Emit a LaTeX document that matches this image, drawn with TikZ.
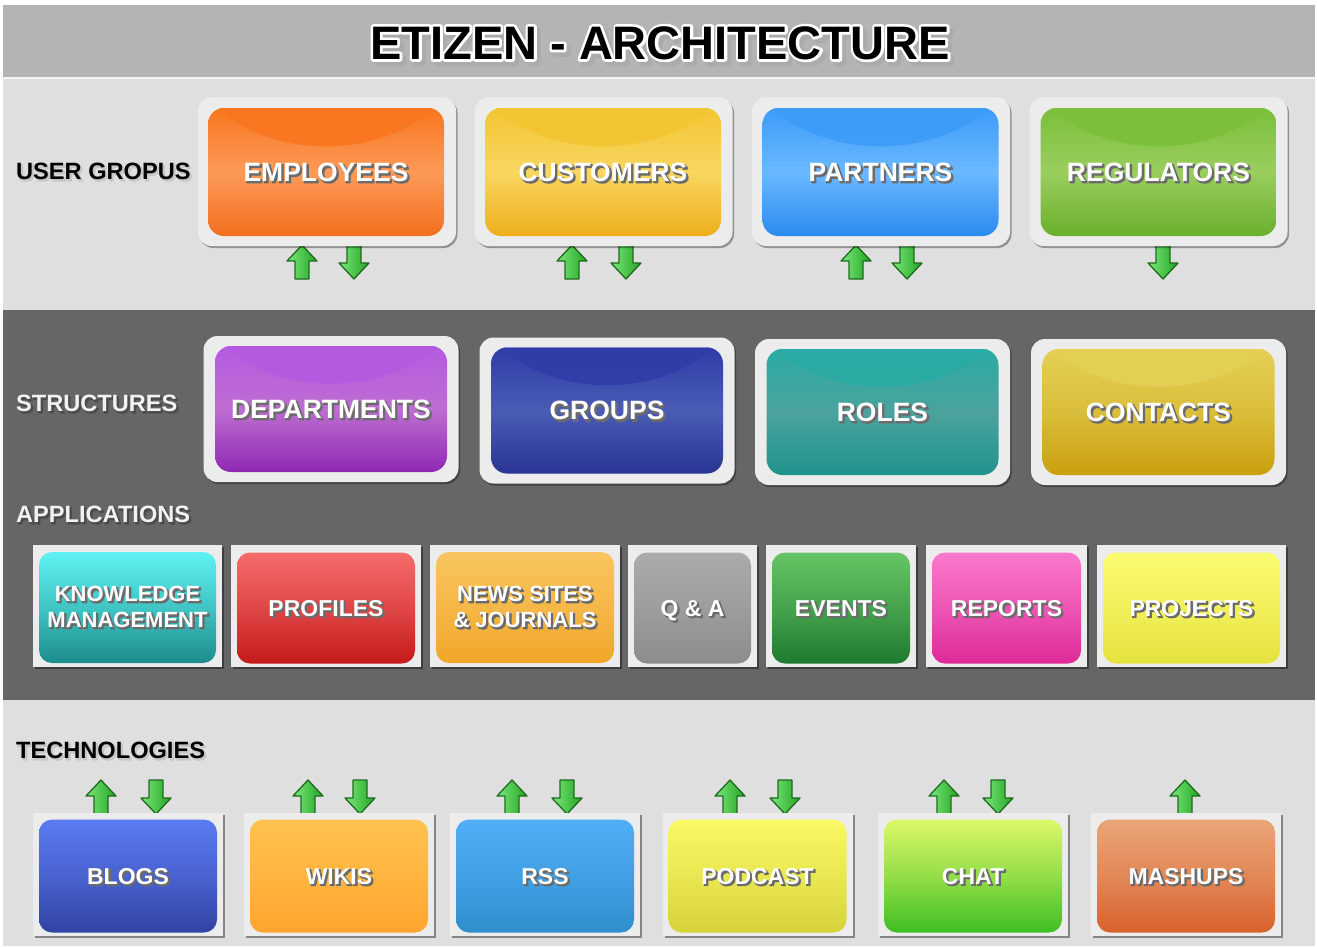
\documentclass[tikz,border=0pt]{standalone}
\usepackage{fontspec}
\setmainfont{Liberation Sans}
\usetikzlibrary{shadows,calc}
\definecolor{titlegray}{HTML}{B4B4B4}
\definecolor{lightband}{HTML}{DFDFDF}
\definecolor{darkband}{HTML}{666666}
\definecolor{framegray}{HTML}{ECECEC}
\definecolor{arrowdark}{HTML}{1E6B1E}
\definecolor{arrowlight}{HTML}{7BE87B}
\definecolor{arrowmid}{HTML}{22A322}
% row 1
\definecolor{empD}{HTML}{F8761E}\definecolor{empL}{HTML}{FC9A58}\definecolor{empB}{HTML}{F36F1E}
\definecolor{cusD}{HTML}{F3C532}\definecolor{cusL}{HTML}{F8D660}\definecolor{cusB}{HTML}{EEAE1C}
\definecolor{parD}{HTML}{3C9CF8}\definecolor{parL}{HTML}{6BB8FF}\definecolor{parB}{HTML}{2A8AF0}
\definecolor{regD}{HTML}{7BBF3A}\definecolor{regL}{HTML}{9ACE5E}\definecolor{regB}{HTML}{6AAF2C}
% row 2
\definecolor{depD}{HTML}{B45AE0}\definecolor{depL}{HTML}{BE6DD2}\definecolor{depB}{HTML}{9028B4}
\definecolor{grpD}{HTML}{303CA8}\definecolor{grpL}{HTML}{4A5CB4}\definecolor{grpB}{HTML}{2A3494}
\definecolor{rolD}{HTML}{2AABA5}\definecolor{rolL}{HTML}{4CA29C}\definecolor{rolB}{HTML}{1E948C}
\definecolor{conD}{HTML}{E4D055}\definecolor{conL}{HTML}{DABD3A}\definecolor{conB}{HTML}{C9A00E}
% row 3
\definecolor{kmT}{HTML}{5EF2F2}\definecolor{kmB}{HTML}{1C8C8C}
\definecolor{proT}{HTML}{F66B6B}\definecolor{proB}{HTML}{C41A1A}
\definecolor{newT}{HTML}{F9C560}\definecolor{newB}{HTML}{F0A628}
\definecolor{qaT}{HTML}{ABABAB}\definecolor{qaB}{HTML}{8C8C8C}
\definecolor{evT}{HTML}{66C466}\definecolor{evB}{HTML}{1E7A2E}
\definecolor{repT}{HTML}{FA78CC}\definecolor{repB}{HTML}{DD2A98}
\definecolor{prjT}{HTML}{FBFB70}\definecolor{prjB}{HTML}{E4E23E}
% row 4
\definecolor{blT}{HTML}{5B7BF2}\definecolor{blB}{HTML}{3244A4}
\definecolor{wiT}{HTML}{FFC24E}\definecolor{wiB}{HTML}{FFA52E}
\definecolor{rsT}{HTML}{50AEF8}\definecolor{rsB}{HTML}{2F8FCC}
\definecolor{poT}{HTML}{F9F965}\definecolor{poB}{HTML}{D6D23A}
\definecolor{chT}{HTML}{DCF868}\definecolor{chB}{HTML}{3DBE22}
\definecolor{maT}{HTML}{EAA678}\definecolor{maB}{HTML}{D8622E}

\newcommand\fntT{\fontsize{47}{50}\selectfont\bfseries}
\newcommand\fntA{\fontsize{26.5}{30}\selectfont\bfseries}
\newcommand\fntC{\fontsize{23}{26}\selectfont\bfseries}
\newcommand\fntK{\fontsize{22}{26}\selectfont\bfseries}
\newcommand\fntL{\fontsize{23.6}{27}\selectfont\bfseries}
% text render mode: fill+stroke (for halos and soft shadows)
\newcommand\trOn[1]{\special{pdf:literal direct 2 Tr #1 w 1 j}}
\newcommand\trOff{\special{pdf:literal direct 0 Tr 0.4 w 0 j}}
\newcommand\shdc[2]{\leavevmode\rlap{\kern1.6pt\raisebox{-1.6pt}{\trOn{1.2}\textcolor{#1}{#2}\trOff}}#2}
\newcommand\shd[1]{\shdc{black!58}{#1}}
\newcommand\titletext[1]{\leavevmode\rlap{\kern3.5pt\raisebox{-4pt}{\trOn{6}\textcolor{black!33}{#1}\trOff}}\rlap{\trOn{5.2}\textcolor{white}{#1}\trOff}#1}

\begin{document}
\begin{tikzpicture}[x=1pt,y=-1pt,
  frameR/.style={fill=framegray, rounded corners=14pt, inner sep=0pt,
    drop shadow={shadow xshift=1.5pt, shadow yshift=-2pt, opacity=.35, fill=black}},
  frameS/.style={fill=framegray, inner sep=0pt,
    drop shadow={shadow xshift=2pt, shadow yshift=-2pt, opacity=.4, fill=black}},
  gloss/.style n args={3}{rounded corners=16pt, inner sep=0pt, text=white,
    top color=#1, bottom color=#3, middle color=#2,
    path picture={\fill[#1,opacity=.9] let \p1=(path picture bounding box.north west),
      \p2=(path picture bounding box.south east) in
      ({(\x1+\x2)/2},{\y1+0.6*(\y1-\y2)}) ellipse [x radius={0.62*(\x2-\x1)}, y radius={0.9*(\y1-\y2)}];}},
  gradbox/.style 2 args={rounded corners=13pt, inner sep=0pt, text=white,
    top color=#1, bottom color=#2, middle color=#1!55!#2},
  rowA/.style={minimum width=258pt, minimum height=149pt},
  rowAi/.style={minimum width=236pt, minimum height=128pt, font=\fntA, text depth=0pt},
  rowB/.style={minimum width=255pt, minimum height=146pt},
  rowBi/.style={minimum width=232pt, minimum height=126pt, font=\fntA, text depth=0pt},
  rowC/.style={minimum height=122pt},
  rowCi/.style={minimum height=111pt, font=\fntC, align=center},
  one/.style={text depth=0pt},
  rowD/.style={minimum width=190pt, minimum height=123pt},
  rowDi/.style={minimum width=178pt, minimum height=113pt, font=\fntC, text depth=0pt},
  lbl/.style={anchor=west, inner sep=0pt, font=\fntL},
  arrowfill/.style={draw=arrowdark, line width=1.3pt, line join=round, left color=arrowlight, right color=arrowmid},
  uparr/.pic={\path[arrowfill] (0,0) -- (15,16) -- (7,16) -- (7,34) -- (-7,34) -- (-7,16) -- (-15,16) -- cycle;},
  dnarr/.pic={\path[arrowfill] (-7,0) -- (7,0) -- (7,18) -- (15,18) -- (0,34) -- (-15,18) -- (-7,18) -- cycle;}
]
\useasboundingbox (0,0) rectangle (1317,946);
\fill[white] (0,0) rectangle (1317,946);
\fill[titlegray] (3,5) rectangle (1315,77);
\fill[white!85!titlegray] (3,77) rectangle (1315,79);
\fill[lightband] (3,79) rectangle (1315,310);
\fill[darkband] (3,310) rectangle (1315,700);
\fill[lightband] (3,700) rectangle (1315,946);

\node[inner sep=0pt, font=\fntT, text=black] (title) at (660,45) {\titletext{ETIZEN - ARCHITECTURE}};

% labels
\node[lbl, text=black] (lusr) at (16,172) {\shdc{black!22}{USER GROPUS}};
\node[lbl, text=white!95!black] (lstr) at (16,404) {\shdc{black!70}{STRUCTURES}};
\node[lbl, text=white!95!black] (lapp) at (16,515) {\shdc{black!70}{APPLICATIONS}};
\node[lbl, text=black] (ltec) at (16,751) {\shdc{black!22}{TECHNOLOGIES}};

% arrows (behind frames)
\pic at (302,245) {uparr}; \pic at (354,245) {dnarr};
\pic at (572,245) {uparr}; \pic at (626,245) {dnarr};
\pic at (856,245) {uparr}; \pic at (907,245) {dnarr};
\pic at (1163,245) {dnarr};
\pic at (101,780) {uparr}; \pic at (156,780) {dnarr};
\pic at (308,780) {uparr}; \pic at (360,780) {dnarr};
\pic at (512,780) {uparr}; \pic at (567,780) {dnarr};
\pic at (730,780) {uparr}; \pic at (785,780) {dnarr};
\pic at (944,780) {uparr}; \pic at (998,780) {dnarr};
\pic at (1185,780) {uparr};

% row 1: user groups
\node[frameR, rowA] (femp) at (327,171.5) {};
\node[frameR, rowA] (fcus) at (603.5,171.5) {};
\node[frameR, rowA] (fpar) at (881,171.5) {};
\node[frameR, rowA] (freg) at (1158.5,171.5) {};
\node[gloss={empD}{empL}{empB}, rowAi] (emp) at (326,172) {\shd{EMPLOYEES}};
\node[gloss={cusD}{cusL}{cusB}, rowAi] (cus) at (603,172) {\shd{CUSTOMERS}};
\node[gloss={parD}{parL}{parB}, rowAi] (par) at (880.5,172) {\shd{PARTNERS}};
\node[gloss={regD}{regL}{regB}, rowAi] (reg) at (1158.5,172) {\shd{REGULATORS}};

% row 2: structures
\node[frameR, rowB] (fdep) at (331,409) {};
\node[frameR, rowB] (fgrp) at (607,410.5) {};
\node[frameR, rowB] (frol) at (882.5,412) {};
\node[frameR, rowB] (fcon) at (1158.5,412) {};
\node[gloss={depD}{depL}{depB}, rowBi] (dep) at (331,409) {\shd{DEPARTMENTS}};
\node[gloss={grpD}{grpL}{grpB}, rowBi] (grp) at (607,410.5) {\shd{GROUPS}};
\node[gloss={rolD}{rolL}{rolB}, rowBi] (rol) at (882.5,412) {\shd{ROLES}};
\node[gloss={conD}{conL}{conB}, rowBi] (con) at (1158.5,412) {\shd{CONTACTS}};

% row 3: applications
\node[frameS, rowC, minimum width=189pt] (fkm) at (127.5,606) {};
\node[frameS, rowC, minimum width=190pt] (fpro) at (326,606) {};
\node[frameS, rowC, minimum width=190pt] (fnew) at (525,606) {};
\node[frameS, rowC, minimum width=129pt] (fqa) at (692.5,606) {};
\node[frameS, rowC, minimum width=150pt] (fev) at (841,606) {};
\node[frameS, rowC, minimum width=161pt] (frep) at (1006.5,606) {};
\node[frameS, rowC, minimum width=189pt] (fprj) at (1191.5,606) {};
\node[gradbox={kmT}{kmB}, rowCi, minimum width=177pt, font=\fntK] (km) at (127.5,607.5) {\shd{KNOWLEDGE}\\\shd{MANAGEMENT}};
\node[gradbox={proT}{proB}, rowCi, one, minimum width=178pt] (pro) at (326,608) {\shd{PROFILES}};
\node[gradbox={newT}{newB}, rowCi, minimum width=178pt, font=\fntK] (new) at (525,607.5) {\shd{NEWS SITES}\\\shd{\& JOURNALS}};
\node[gradbox={qaT}{qaB}, rowCi, one, minimum width=117pt] (qa) at (692.5,608) {\shd{Q \& A}};
\node[gradbox={evT}{evB}, rowCi, one, minimum width=138pt] (ev) at (841,608) {\shd{EVENTS}};
\node[gradbox={repT}{repB}, rowCi, one, minimum width=149pt] (rep) at (1006.5,608) {\shd{REPORTS}};
\node[gradbox={prjT}{prjB}, rowCi, one, minimum width=177pt] (prj) at (1191.5,608) {\shd{PROJECTS}};

% row 4: technologies
\node[frameS, rowD] (fbl) at (128,874.5) {};
\node[frameS, rowD] (fwi) at (339,874.5) {};
\node[frameS, rowD] (frs) at (545,874.5) {};
\node[frameS, rowD] (fpo) at (757.5,874.5) {};
\node[frameS, rowD] (fch) at (973,874.5) {};
\node[frameS, rowD] (fma) at (1186,874.5) {};
\node[gradbox={blT}{blB}, rowDi] (bl) at (128,876) {\shd{BLOGS}};
\node[gradbox={wiT}{wiB}, rowDi] (wi) at (339,876) {\shd{WIKIS}};
\node[gradbox={rsT}{rsB}, rowDi] (rs) at (545,876) {\shd{RSS}};
\node[gradbox={poT}{poB}, rowDi] (po) at (757.5,876) {\shd{PODCAST}};
\node[gradbox={chT}{chB}, rowDi] (ch) at (973,876) {\shd{CHAT}};
\node[gradbox={maT}{maB}, rowDi] (ma) at (1186,876) {\shd{MASHUPS}};
\end{tikzpicture}
\end{document}
